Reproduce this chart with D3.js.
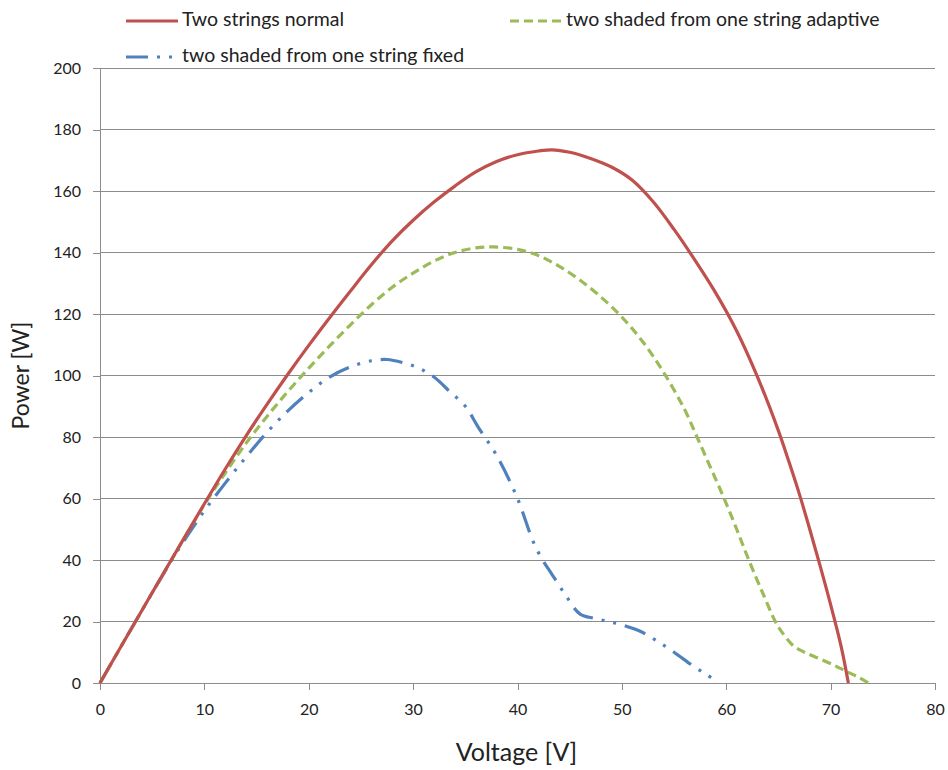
<!DOCTYPE html>
<html>
<head>
<meta charset="utf-8">
<script src="https://cdn.jsdelivr.net/npm/d3@7"></script>
<style>
  html, body { margin: 0; padding: 0; background: #fff; }
  svg { display: block; font-family: Lato, "Open Sans", sans-serif; }
</style>
</head>
<body>
<svg id="chart" width="948" height="770"></svg>
<script>
// ---- data ----
const seriesNames = ["Two strings normal", "two shaded from one string adaptive", "two shaded from one string fixed"];
const normalV = [0, 2, 4, 6, 8, 10, 12, 14, 16, 18, 20, 22, 24, 26, 28, 30, 32, 34, 36, 38, 40, 42, 43.3, 45, 47, 49, 51, 53, 55, 57, 59, 61, 63, 65, 66, 67, 68, 69, 70, 71, 71.7];
const normalP = [0, 11.8, 23.5, 35.2, 46.8, 58.3, 69.6, 80.4, 90.6, 100.4, 109.8, 118.8, 127.5, 136, 143.8, 150.5, 156.4, 161.6, 166.2, 169.6, 171.8, 173, 173.4, 172.6, 170.6, 167.8, 163.5, 156.5, 147.5, 137.5, 126.8, 114.5, 99.5, 82, 72, 61.5, 50, 38, 25.5, 12, 0];
const adaptiveV = [0, 2, 4, 6, 8, 10, 12, 14, 16, 18, 20, 22, 24, 26, 28, 30, 32, 34, 36, 37.7, 40, 42, 44, 46, 48, 50, 52, 54, 56, 57.2, 58.5, 59.8, 61, 62.1, 63.4, 64.7, 65.2, 66.4, 67.5, 69, 70.5, 71.6, 72.7, 73.6];
const adaptiveP = [0, 11.8, 23.5, 35.2, 46.7, 58, 68.3, 78, 86.7, 94.8, 102.4, 109.6, 116.5, 123, 128.7, 133.3, 137.2, 140, 141.5, 141.8, 141, 139, 135.5, 131, 125.5, 119, 111, 101, 89, 80, 70, 60, 50, 40.5, 30, 20, 17.2, 12.2, 10, 7.8, 5.5, 3.6, 1.8, 0];
const fixedV = [0, 2, 4, 6, 8, 10, 12, 14, 16, 18, 20, 22, 24, 26, 27.5, 29, 30.5, 32, 33.5, 35, 36.2, 38, 40, 41.5, 42.4, 43.1, 44.6, 46, 47.4, 48.7, 50, 51.7, 53.4, 55, 56.8, 58, 59.2];
const fixedP = [0, 11.8, 23.5, 35, 46, 56, 65, 73.5, 81.5, 88.5, 94.5, 99.5, 102.8, 104.8, 105.2, 104.2, 102.5, 99.5, 94.8, 90, 83.4, 74, 60, 46, 40, 36.4, 28.6, 22.4, 21, 20, 18.9, 16.9, 13.6, 10, 5.6, 3, 0.3];
const xTicks = [0, 10, 20, 30, 40, 50, 60, 70, 80];
const yTicks = [0, 20, 40, 60, 80, 100, 120, 140, 160, 180, 200];
const xTitle = "Voltage [V]";
const yTitle = "Power [W]";

// ---- layout ----
const svg = d3.select("#chart");
const mLeft = 100, mRight = 935, mTop = 68, mBottom = 683;
const x = d3.scaleLinear().domain([0, 80]).range([mLeft, mRight]);
const y = d3.scaleLinear().domain([0, 200]).range([mBottom, mTop]);
const gridColor = "#8c8c8c";
const textColor = "#222";

// gridlines
svg.append("g").selectAll("line").data(yTicks.filter(d => d > 0)).join("line")
  .attr("x1", mLeft).attr("x2", mRight)
  .attr("y1", d => y(d)).attr("y2", d => y(d))
  .attr("stroke", gridColor).attr("stroke-width", 1).attr("shape-rendering", "crispEdges");

// axes
const yAxis = svg.append("g").attr("transform", `translate(${mLeft},0)`)
  .call(d3.axisLeft(y).tickValues(yTicks).tickSize(7).tickPadding(12).tickFormat(d3.format("d")));
const xAxis = svg.append("g").attr("transform", `translate(0,${mBottom})`)
  .call(d3.axisBottom(x).tickValues(xTicks).tickSize(7).tickPadding(14).tickFormat(d3.format("d")));
[yAxis, xAxis].forEach(g => {
  g.select(".domain").attr("stroke", gridColor).attr("shape-rendering", "crispEdges");
  g.selectAll(".tick line").attr("stroke", gridColor).attr("shape-rendering", "crispEdges");
  g.selectAll(".tick text").attr("fill", textColor).style("font-size", "16px").style("font-family", "Lato, 'Open Sans', sans-serif");
});
yAxis.select(".domain").attr("d", `M0,${mTop}V${mBottom}`);
xAxis.select(".domain").attr("d", `M${mLeft},0H${mRight}`);

// axis titles
svg.append("text").attr("x", (mLeft + mRight) / 2 - 1).attr("y", 755)
  .attr("text-anchor", "middle").attr("dominant-baseline", "middle")
  .attr("fill", textColor).style("font-size", "25px").text(xTitle);
svg.append("text").attr("transform", `translate(23,${(mTop + mBottom) / 2}) rotate(-90)`)
  .attr("text-anchor", "middle").attr("dominant-baseline", "middle")
  .attr("fill", textColor).style("font-size", "23px").text(yTitle);

// series
const series = [
  { name: seriesNames[0], V: normalV, P: normalP, color: "#c0504d", dash: null },
  { name: seriesNames[1], V: adaptiveV, P: adaptiveP, color: "#9bbb59", dash: "9,5" },
  { name: seriesNames[2], V: fixedV, P: fixedP, color: "#4f81bd", dash: "22,9,3,9,3,9" }
];
const line = d3.line().x(d => x(d[0])).y(d => y(d[1])).curve(d3.curveCatmullRom.alpha(0.5));
const drawOrder = [2, 1, 0];
drawOrder.forEach(i => {
  const s = series[i];
  const pts = s.V.map((v, k) => [v, s.P[k]]);
  svg.append("path").datum(pts)
    .attr("d", line)
    .attr("fill", "none")
    .attr("stroke", s.color)
    .attr("stroke-width", 3.2)
    .attr("stroke-linejoin", "round")
    .attr("stroke-dasharray", s.dash);
});

// legend
const legendItems = [
  { s: series[0], x: 126, y: 21 },
  { s: series[1], x: 510, y: 21 },
  { s: series[2], x: 126, y: 57 }
];
legendItems.forEach(it => {
  svg.append("line")
    .attr("x1", it.x).attr("x2", it.x + 52)
    .attr("y1", it.y).attr("y2", it.y)
    .attr("stroke", it.s.color).attr("stroke-width", 3.2)
    .attr("stroke-dasharray", it.s.dash);
  svg.append("text").attr("x", it.x + 56).attr("y", it.y)
    .attr("dominant-baseline", "middle").attr("fill", textColor)
    .style("font-size", "19.5px").text(it.s.name);
});
</script>
</body>
</html>
